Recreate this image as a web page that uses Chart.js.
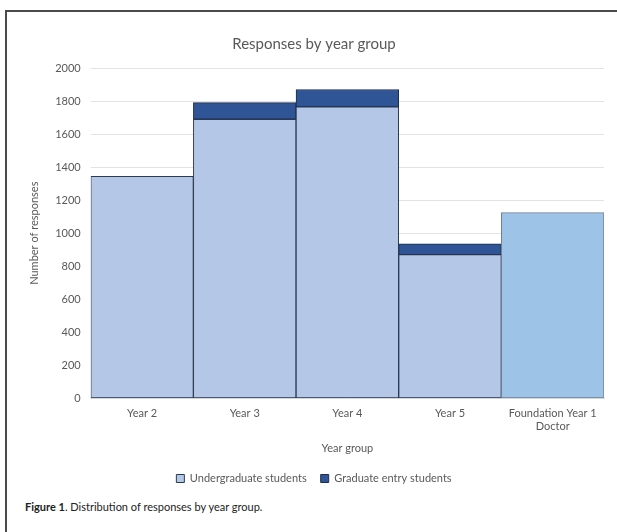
<!DOCTYPE html>
<html>
<head>
<meta charset="utf-8">
<script src="https://cdn.jsdelivr.net/npm/chart.js@4"></script>
<style>
  body { margin: 0; background: #fff; font-family: Lato, "Open Sans", sans-serif; overflow: hidden; }
  #frame { position: absolute; left: 5px; top: 10px; width: 700px; height: 600px;
    border-left: 2px solid #4a4a4a; border-top: 2px solid #4a4a4a; }
  #box { position: absolute; left: 7px; top: 12px; width: 610px; height: 486px; }
  #cap { position: absolute; left: 25px; top: 500px; font-size: 11px; color: #222; }
</style>
</head>
<body>
<div id="frame"></div>
<div id="box"><canvas id="grafico"></canvas></div>
<div id="cap"><b>Figure 1</b>. Distribution of responses by year group.</div>
<script>
//Datos
const categorias = ["Year 2", "Year 3", "Year 4", "Year 5", ["Foundation Year 1", "Doctor"]];
const pregrado = [1345, 1690, 1765, 870, 1125];
const graduados = [null, 100, 105, 65, null];
const ticksY = [0, 200, 400, 600, 800, 1000, 1200, 1400, 1600, 1800, 2000];

const d = document,
  gris = '#595959';

//Color distinto para FY1
const colorPre = (ctx) => ctx.dataIndex === 4 ? '#9dc3e6' : '#b4c7e7';
const bordePre = (ctx) => ctx.dataIndex === 4 ? '#6f7f94' : '#2b3950';

const data = {
  labels: categorias,
  datasets: [{
    label: 'Undergraduate students',
    data: pregrado,
    backgroundColor: colorPre,
    borderColor: bordePre,
    borderWidth: 1,
    borderSkipped: false,
    barPercentage: 1,
    categoryPercentage: 1
  }, {
    label: 'Graduate entry students',
    data: graduados,
    backgroundColor: '#2f5597',
    borderColor: '#1f2d47',
    borderWidth: 1,
    borderSkipped: false,
    barPercentage: 1,
    categoryPercentage: 1
  }]
};

const config = {
  type: 'bar',
  data: data,
  options: {
    responsive: true,
    maintainAspectRatio: false,
    animation: false,
    layout: { padding: { left: 17, right: 13, bottom: 4 } },
    plugins: {
      title: {
        display: true,
        text: 'Responses by year group',
        color: gris,
        font: { family: 'Lato', size: 15, weight: 'normal' },
        padding: { top: 23, bottom: 15 }
      },
      legend: {
        position: 'bottom',
        labels: {
          color: gris,
          font: { family: 'Lato', size: 11 },
          boxWidth: 8,
          boxHeight: 8,
          padding: 14
        }
      },
      tooltip: { enabled: false }
    },
    scales: {
      x: {
        stacked: true,
        grid: { display: false, drawTicks: false },
        border: { display: true, color: '#d9d9d9' },
        ticks: { color: gris, font: { family: 'Lato', size: 11 }, maxRotation: 0, padding: 8 },
        title: { display: true, text: 'Year group', color: gris, font: { family: 'Lato', size: 11 }, padding: { top: 1 } }
      },
      y: {
        stacked: true,
        min: 0,
        max: 2000,
        afterBuildTicks: (eje) => { eje.ticks = ticksY.map(v => ({ value: v })); },
        grid: { color: '#e3e3e3', drawTicks: false },
        border: { display: false },
        ticks: { color: gris, font: { family: 'Lato', size: 11 }, padding: 10, callback: (v) => String(v) },
        title: { display: true, text: 'Number of responses', color: gris, font: { family: 'Lato', size: 11 } }
      }
    }
  }
};

let chart = d.getElementById('grafico');
if (chart !== null) {
  let miGrafico = new Chart(chart, config);
}
</script>
</body>
</html>
